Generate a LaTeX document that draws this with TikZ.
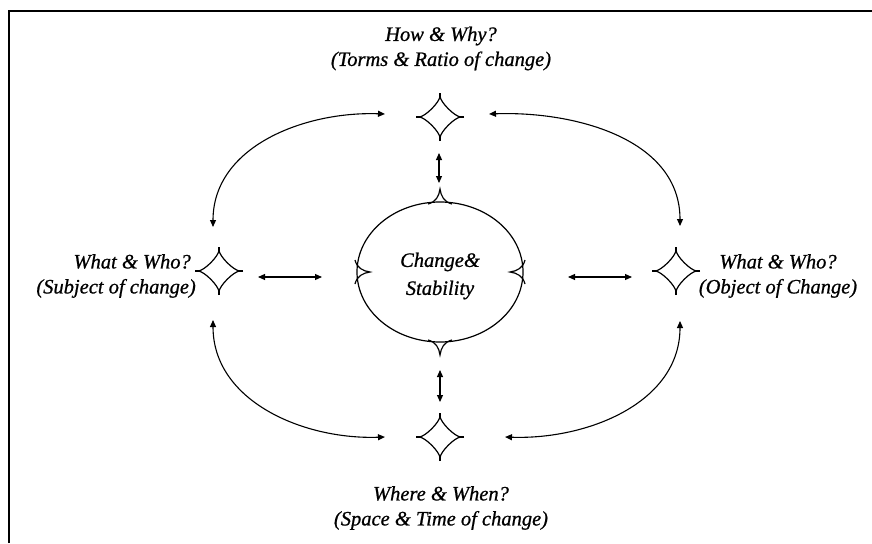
\documentclass[tikz,border=0pt]{standalone}
\usepackage{fontspec}
\setmainfont{Liberation Serif}[ItalicFeatures={FakeBold=0.8}]
\usetikzlibrary{arrows.meta,calc,shapes.geometric}
\tikzset{
  lbl/.style={font=\fontsize{20.5}{25}\selectfont\itshape, inner sep=0pt, align=center},
  conn/.style={line width=1.1pt, {Triangle[length=7pt,width=6pt]}-{Triangle[length=7pt,width=6pt]}},
  starline/.style={line width=1.2pt},
}
\newcommand{\mystar}[1]{%
  \draw[starline] ($(#1)+(0,-21)$) .. controls ($(#1)+(0,-15)$) and ($(#1)+(15,0)$) .. ($(#1)+(21,0)$)
    .. controls ($(#1)+(15,0)$) and ($(#1)+(0,15)$) .. ($(#1)+(0,21)$)
    .. controls ($(#1)+(0,15)$) and ($(#1)+(-15,0)$) .. ($(#1)+(-21,0)$)
    .. controls ($(#1)+(-15,0)$) and ($(#1)+(0,-15)$) .. cycle;
  \draw[starline] ($(#1)+(0,-24)$) -- ($(#1)+(0,-20)$);
  \draw[starline] ($(#1)+(0,24)$) -- ($(#1)+(0,20)$);
  \draw[starline] ($(#1)+(-24,0)$) -- ($(#1)+(-20,0)$);
  \draw[starline] ($(#1)+(24,0)$) -- ($(#1)+(20,0)$);
}
\newcommand{\mycusp}[2]{% position, rotation (tip points up at 0)
  \draw[starline, rotate around={#2:(#1)}] ($(#1)+(-12,2)$) .. controls ($(#1)+(-4,0)$) and ($(#1)+(-1,-6)$) .. ($(#1)+(0,-13)$)
    .. controls ($(#1)+(1,-6)$) and ($(#1)+(4,0)$) .. ($(#1)+(12,2)$);
}
\begin{document}
\begin{tikzpicture}[x=1pt,y=-1pt]
\useasboundingbox (0,0) rectangle (872,543);
\draw[line width=2pt] (9,543) -- (9,11) -- (872,11);

% star centres
\coordinate (sT) at (440,117);
\coordinate (sL) at (219,271);
\coordinate (sR) at (676,271);
\coordinate (sB) at (440,437);
\mystar{sT}
\mystar{sL}
\mystar{sR}
\mystar{sB}

% central ellipse
\node[draw, line width=1.2pt, ellipse, minimum width=166pt, minimum height=140pt, inner sep=0pt] (c) at (440,272) {};
\coordinate (cT) at (440,202);
\coordinate (cB) at (440,342);
\coordinate (cL) at (357,272);
\coordinate (cR) at (523,272);
\mycusp{cT}{0}
\mycusp{cB}{180}
\mycusp{cL}{-90}
\mycusp{cR}{90}

\node[lbl] (center) at (440,276) {Change\&\\[3pt]Stability};

% labels
\node[lbl] (top) at (441,48.5) {How \& Why?\\(Torms \& Ratio of change)};
\node[lbl, anchor=east, align=right] (left) at (196,276) {What \& Who?\hspace*{5pt}\\(Subject of change)};
\node[lbl] (right) at (778,276) {What \& Who?\\(Object of Change)};
\node[lbl] (bottom) at (441,508) {Where \& When?\\(Space \& Time of change)};

% straight connectors
\coordinate (vt1) at (439,153);
\coordinate (vt2) at (439,183);
\coordinate (vb1) at (440,370);
\coordinate (vb2) at (440,402);
\coordinate (hl1) at (258,277);
\coordinate (hl2) at (322,277);
\coordinate (hr1) at (568,277);
\coordinate (hr2) at (632,277);
\draw[conn] (vt1) -- (vt2);
\draw[conn] (vb1) -- (vb2);
\draw[conn] (hl1) -- (hl2);
\draw[conn] (hr1) -- (hr2);

% curved connectors
\coordinate (a1) at (385,114);
\coordinate (a2) at (213,227);
\coordinate (b1) at (489,114);
\coordinate (b2) at (680,226);
\coordinate (d1) at (213,320);
\coordinate (d2) at (385,437);
\coordinate (e1) at (505,437);
\coordinate (e2) at (680,321);
\draw[conn] (a1) to[out=178,in=90] (a2);
\draw[conn] (b1) to[out=2,in=90] (b2);
\draw[conn] (d1) to[out=-90,in=182] (d2);
\draw[conn] (e1) to[out=-2,in=-90] (e2);
\end{tikzpicture}
\end{document}
